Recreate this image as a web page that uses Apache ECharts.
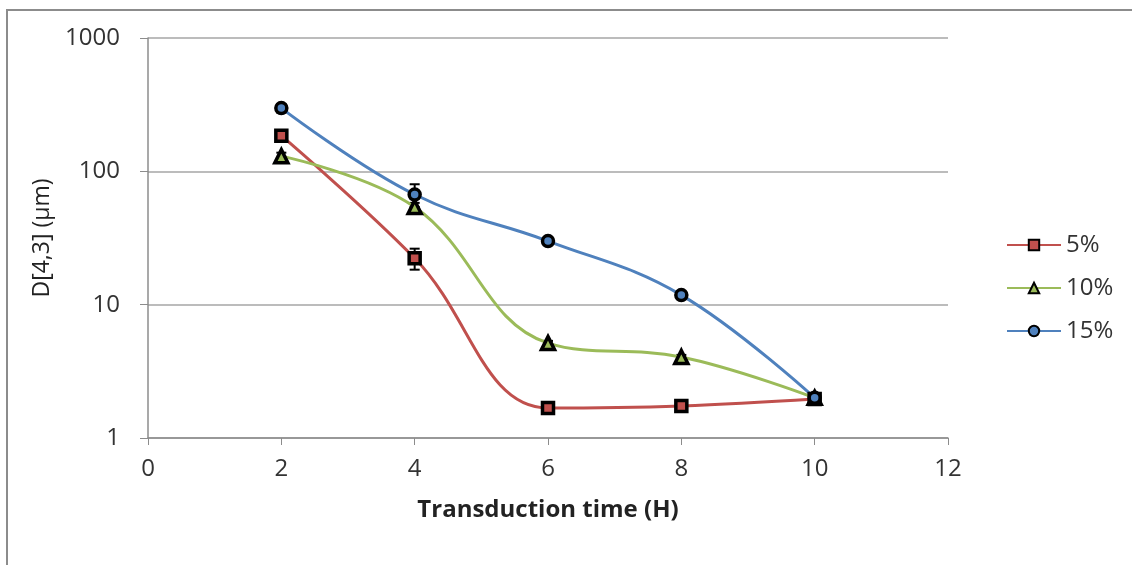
<!DOCTYPE html>
<html><head><meta charset="utf-8">
<script src="https://cdn.jsdelivr.net/npm/echarts@6/dist/echarts.min.js"></script>
<style>html,body{margin:0;padding:0;background:#fff}#c{width:1132px;height:565px}</style>
</head><body><div id="c"></div>
<script>
const xValues = [2, 4, 6, 8, 10];
const s5 = [185, 22.3, 1.68, 1.74, 1.96];
const s10 = [130, 54, 5.15, 4.05, 2.0];
const s15 = [298, 67, 30, 11.8, 2.0];
const err5 = [12, 4, 0.08, 0.08, 0.05];
const err10 = [8, 4, 0.2, 0.15, 0.05];
const err15 = [22, 13, 1, 0.4, 0.05];
const seriesNames = ['5%', '10%', '15%'];
const colors = ['#c0504d', '#9bbb59', '#4f81bd'];
const symbols = ['rect', 'triangle', 'circle'];

const font = '"Open Sans", sans-serif';
const chart = echarts.init(document.getElementById('c'));

function pairs(vals){ return xValues.map((x,i)=>[x, vals[i]]); }
function errData(vals, errs){ return xValues.map((x,i)=>[x, vals[i]-errs[i], vals[i]+errs[i]]); }

const allVals = [s5, s10, s15];
const allErr = [err5, err10, err15];
const series = [];
allVals.forEach((vals, k) => {
  series.push({
    type: 'custom',
    name: seriesNames[k] + ' err',
    data: errData(vals, allErr[k]),
    z: 3,
    silent: true,
    renderItem: function(params, api){
      const x = api.value(0);
      const lo = api.coord([x, api.value(1)]);
      const hi = api.coord([x, api.value(2)]);
      const w = 5;
      const st = {stroke: '#000', lineWidth: 2};
      return {type:'group', children:[
        {type:'line', shape:{x1:lo[0], y1:lo[1], x2:hi[0], y2:hi[1]}, style: st},
        {type:'line', shape:{x1:lo[0]-w, y1:lo[1], x2:lo[0]+w, y2:lo[1]}, style: st},
        {type:'line', shape:{x1:hi[0]-w, y1:hi[1], x2:hi[0]+w, y2:hi[1]}, style: st}
      ]};
    }
  });
});
allVals.forEach((vals, k) => {
  series.push({
    type: 'line',
    name: seriesNames[k],
    data: pairs(vals),
    smooth: 0.4,
    z: 4,
    symbol: symbols[k],
    symbolSize: k === 1 ? 13 : 11,
    lineStyle: {color: colors[k], width: 3},
    itemStyle: {color: colors[k], borderColor: '#000', borderWidth: 3.5},
    emphasis: {disabled: true}
  });
});

chart.setOption({
  animation: false,
  backgroundColor: '#fff',
  graphic: [{type:'rect', shape:{x:7, y:10, width:1140, height:570}, style:{fill:'none', stroke:'#8c8c8c', lineWidth:2}, silent:true}],
  grid: {left: 148, right: 184, top: 38, bottom: 127},
  legend: {
    orient: 'vertical', left: 1001, top: 228, itemGap: 19,
    itemWidth: 54, itemHeight: 13,
    data: seriesNames,
    textStyle: {fontFamily: font, fontSize: 24, color: '#333', padding: [0,0,0,0]}
  },
  xAxis: {
    type: 'value', min: 0, max: 12, interval: 2,
    name: 'Transduction time (H)', nameLocation: 'middle', nameGap: 60,
    nameTextStyle: {fontFamily: font, fontSize: 24, fontWeight: 'bold', color: '#222'},
    axisLine: {lineStyle: {color: '#8c8c8c', width: 1.5}},
    axisTick: {show: true, length: 7, lineStyle: {color: '#8c8c8c'}},
    axisLabel: {fontFamily: font, fontSize: 24, color: '#333', margin: 19},
    splitLine: {show: false}
  },
  yAxis: {
    type: 'log', logBase: 10, min: 1, max: 1000,
    name: 'D[4,3] (μm)', nameLocation: 'middle', nameGap: 92, nameRotate: 90,
    nameTextStyle: {fontFamily: font, fontSize: 23, color: '#222'},
    axisLine: {show: true, lineStyle: {color: '#8c8c8c', width: 1.5}},
    axisTick: {show: true, length: 8, inside: false, lineStyle: {color: '#8c8c8c'}},
    minorTick: {show: false},
    axisLabel: {fontFamily: font, fontSize: 24, color: '#333', margin: 28, formatter: v => String(Math.round(v))},
    splitLine: {show: true, lineStyle: {color: '#a6a6a6', width: 1.5}}
  },
  series: series
});
</script></body></html>
